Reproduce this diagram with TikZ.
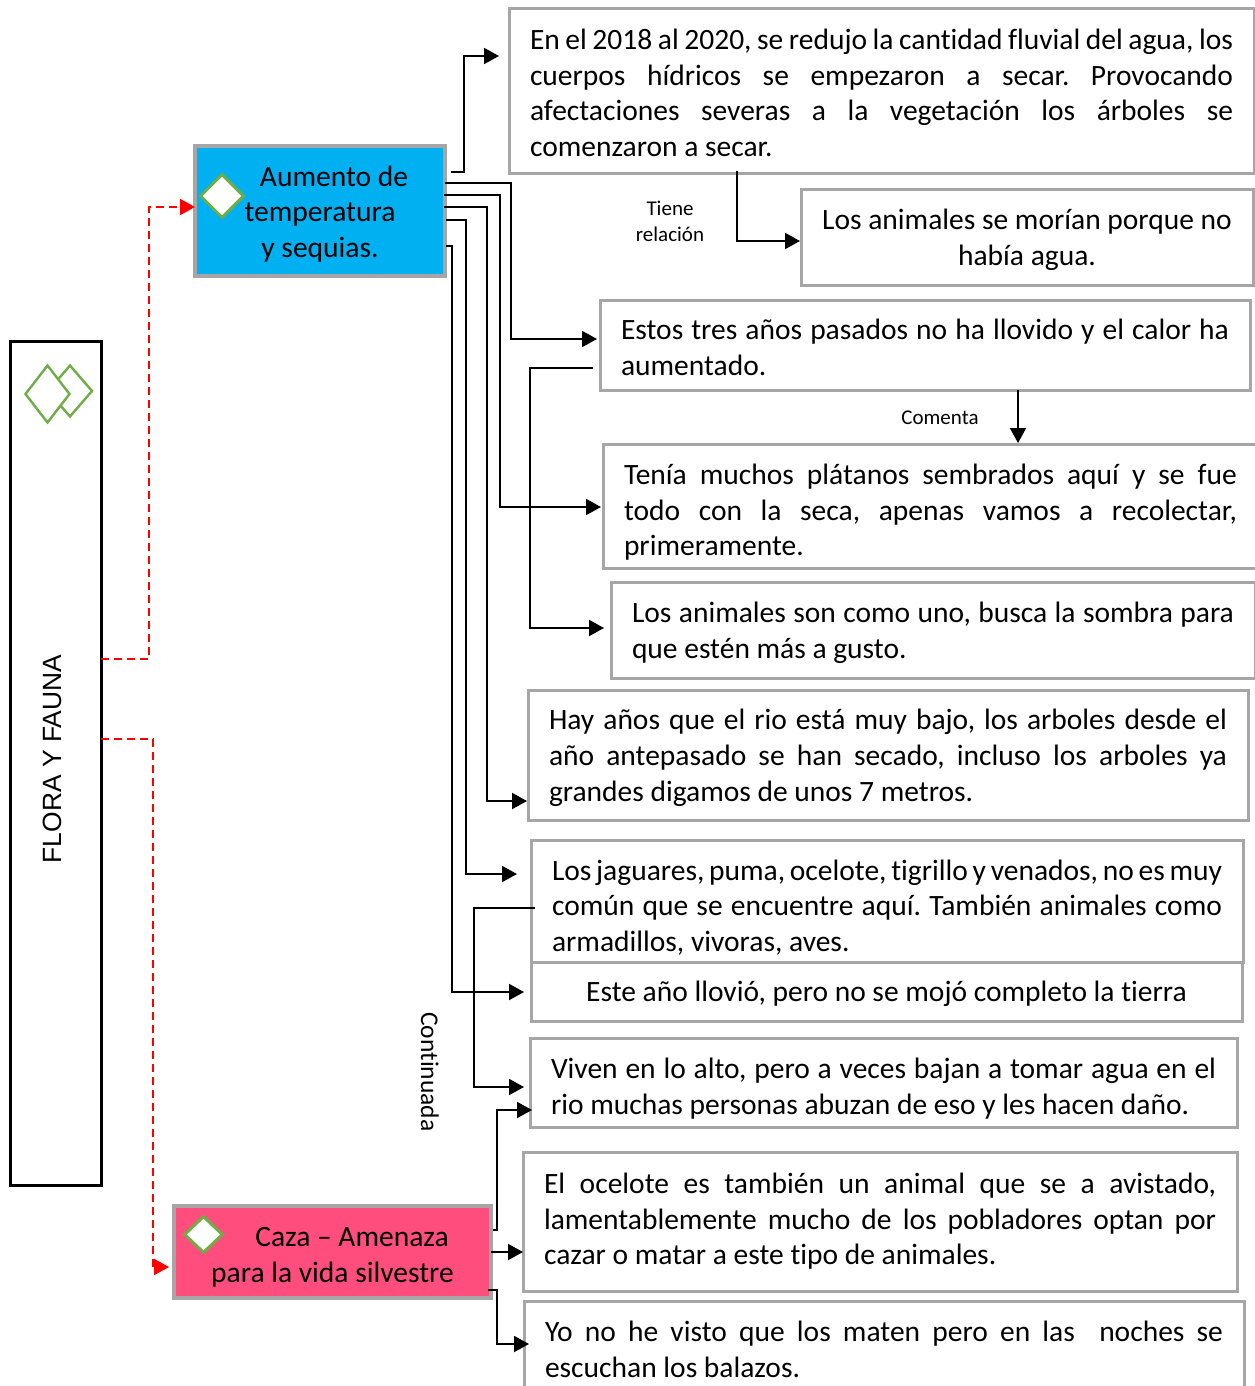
\documentclass[tikz,border=0pt]{standalone}
\usepackage{fontspec}
\setmainfont{Carlito}[Ligatures=NoCommon]
\newfontfamily\arialfont{Liberation Sans}
\usetikzlibrary{arrows.meta,shapes.geometric,positioning}
\definecolor{boxgray}{HTML}{A6A6A6}
\definecolor{leafgreen}{HTML}{70AD47}
\definecolor{skyfill}{HTML}{00B0F0}
\definecolor{rosefill}{HTML}{FF4D7D}
\newcommand{\nudge}[1]{\rule{0pt}{#1pt}}

\begin{document}
\frenchspacing
\begin{tikzpicture}[x=1pt,y=-1pt,
% The boxes with the quotes:
quote/.style={
rectangle,anchor=north west,outer sep=0pt,
draw=boxgray,line width=3pt,fill=white,
inner xsep=21pt,inner ysep=0pt,
align=justify,
font=\fontsize{29.5}{35.6}\selectfont
},
short/.style={
quote,align=flush center,inner xsep=0pt
},
% The two coloured topics:
topic/.style={
rectangle,anchor=north west,outer sep=0pt,
draw=boxgray,line width=3.4pt,
inner sep=0pt,align=flush center,
font=\fontsize{29.5}{35.6}\selectfont
},
% The small marks:
gem/.style={
diamond,draw=leafgreen,fill=white,inner sep=0pt
},
tag/.style={
inner sep=0pt,align=flush center,
font=\fontsize{21}{26}\selectfont
},
% The connectors:
link/.style={
draw=black,line width=2pt,
-{Triangle[length=15pt,width=16pt]}
},
dashlink/.style={
draw=red,line width=2pt,dash pattern=on 8pt off 5pt,
-{Triangle[length=15pt,width=16pt,fill=red]}
}]
\useasboundingbox (0,0) rectangle (1254,1386);

\node (flora) [anchor=north west,rectangle,draw=black,line width=3pt,outer sep=0pt,
minimum width=91pt,minimum height=844pt,inner sep=0pt] at (10,341) {};
\node (floratxt) [rotate=90,inner sep=0pt,font=\arialfont\fontsize{26.4}{32}\selectfont] at (52,759) {FLORA Y FAUNA};
\node (gemb) [gem,line width=2.4pt,minimum width=45pt,minimum height=52pt] at (70,391) {};
\node (gema) [gem,line width=2.4pt,minimum width=45pt,minimum height=58pt] at (47.5,394) {};

\node (heat) [topic,fill=skyfill,minimum width=250pt,minimum height=130pt] at (195,146)
{\nudge{26}\hspace*{28pt}Aumento de\\temperatura\\y sequias.};
\node (gemc) [gem,line width=3pt,minimum width=44pt,minimum height=44pt] at (222,196) {};
\node (hunt) [topic,fill=rosefill,minimum width=317pt,minimum height=92pt] at (174,1206)
{\nudge{30}\hspace*{39pt}Caza -- Amenaza\\para la vida silvestre};
\node (gemd) [gem,line width=3pt,minimum width=39pt,minimum height=37pt] at (203.5,1234.5) {};

\node (qa) [quote,text width=703pt,minimum height=164pt] at (509,9)
{\nudge{24}En el 2018 al 2020, se redujo la cantidad fluvial del agua, los\linebreak
cuerpos hídricos se empezaron a secar. Provocando\linebreak
afectaciones severas a la vegetación los árboles se\linebreak
comenzaron a secar.};
\node (qb) [short,minimum width=452pt,minimum height=96pt] at (801,189)
{\nudge{26}Los animales se morían porque no\\había agua.};
\node (qc) [quote,text width=608pt,minimum height=90pt] at (600,300)
{\nudge{25}Estos tres años pasados no ha llovido y el calor ha\linebreak aumentado.};
\node (qd) [quote,text width=613pt,minimum height=124pt] at (603,444)
{\nudge{33}Tenía muchos plátanos sembrados aquí y se fue\linebreak
todo con la seca, apenas vamos a recolectar,\linebreak primeramente.};
\node (qe) [quote,text width=602pt,minimum height=96pt] at (611,582)
{\nudge{26}Los animales son como uno, busca la sombra para\linebreak que estén más a gusto.};
\node (qf) [quote,text width=678pt,minimum height=130pt] at (528,690)
{\nudge{26}Hay años que el rio está muy bajo, los arboles desde el\linebreak
año antepasado se han secado, incluso los arboles ya\linebreak
grandes digamos de unos 7 metros.};
\node (qg) [quote,text width=670pt,minimum height=122pt] at (531,840)
{\nudge{33}Los jaguares, puma, ocelote, tigrillo y venados, no es muy\linebreak
común que se encuentre aquí. También animales como\linebreak
armadillos, vivoras, aves.};
\node (qh) [short,minimum width=711pt,minimum height=59pt] at (531,962)
{\nudge{25}Este año llovió, pero no se mojó completo la tierra};
\node (qi) [quote,text width=665pt,minimum height=89pt] at (530,1038)
{\nudge{33}Viven en lo alto, pero a veces bajan a tomar agua en el\linebreak
rio muchas personas abuzan de eso y les hacen daño.};
\node (qj) [quote,text width=672pt,minimum height=139pt] at (523,1152)
{El ocelote es también un animal que se a avistado,\linebreak
lamentablemente mucho de los pobladores optan por\linebreak
cazar o matar a este tipo de animales.};
\node (qk) [quote,text width=678pt,minimum height=97pt] at (524,1301)
{Yo no he visto que los maten pero en las\ \ noches se\linebreak
escuchan los balazos.};

\node (tiene) [tag] at (670,221) {Tiene\\relación};
\node (comenta) [tag] at (940,417.5) {Comenta};
\node (cont) [tag,rotate=-90,font=\fontsize{25.5}{30}\selectfont] at (430,1072) {Continuada};

% from the blue topic
\draw[link,shorten >=10pt] ([xshift=6,yshift=39]heat.east) -- ++(13,0) |- ([yshift=35]qa.west);
\draw[link,shorten >=3pt] ([yshift=28]heat.east) -- ++(66,0) |- ([yshift=6]qc.west);
\draw[link,shorten >=2pt] ([xshift=-1,yshift=16]heat.east) -- ++(56,0) |- ([yshift=-1]qd.west);
\draw[link,shorten >=1pt] ([xshift=-1,yshift=4]heat.east) -- ++(43,0) |- ([yshift=-46]qf.west);
\draw[link,shorten >=14pt] ([xshift=1,yshift=-9]heat.east) -- ++(20,0) |- ([yshift=27]qg.west);
\draw[link,shorten >=7pt] ([xshift=1,yshift=-35]heat.east) -- ++(6,0) |- ([yshift=-0.5]qh.west);
% between the quotes
\draw[link,shorten >=1pt] ([xshift=-144.5,yshift=2]qa.south) |- ([yshift=-4]qb.west);
\draw[link,shorten >=7pt] ([xshift=-7,yshift=-23]qc.west) -- ++(-63,0) |- ([yshift=2]qe.west);
\draw[link,shorten >=1pt] ([xshift=93]qc.south) -- ([xshift=93]qc.south |- qd.north);
\draw[link,shorten >=6pt] ([xshift=4,yshift=-7]qg.west) -- ++(-61,0) |- ([yshift=-4.5]qi.west);
% from the red topic
\draw[link] ([xshift=2,yshift=22]hunt.east) -- ++(4,0) |- ([xshift=2,yshift=-27.5]qi.west);
\draw[link] (hunt.east) -- (hunt.east -| qj.west);
\draw[link] ([xshift=-3,yshift=-38]hunt.east) -- ++(9,0) |- ([xshift=5,yshift=5.5]qk.west);
% from the tall box
\draw[dashlink] ([yshift=104]flora.east) -- ++(48,0) |- ([yshift=4]heat.west);
\draw[dashlink,shorten >=5pt] ([yshift=24]flora.east) -- ++(52,0) |- ([yshift=-15]hunt.west);
\end{tikzpicture}
\end{document}
